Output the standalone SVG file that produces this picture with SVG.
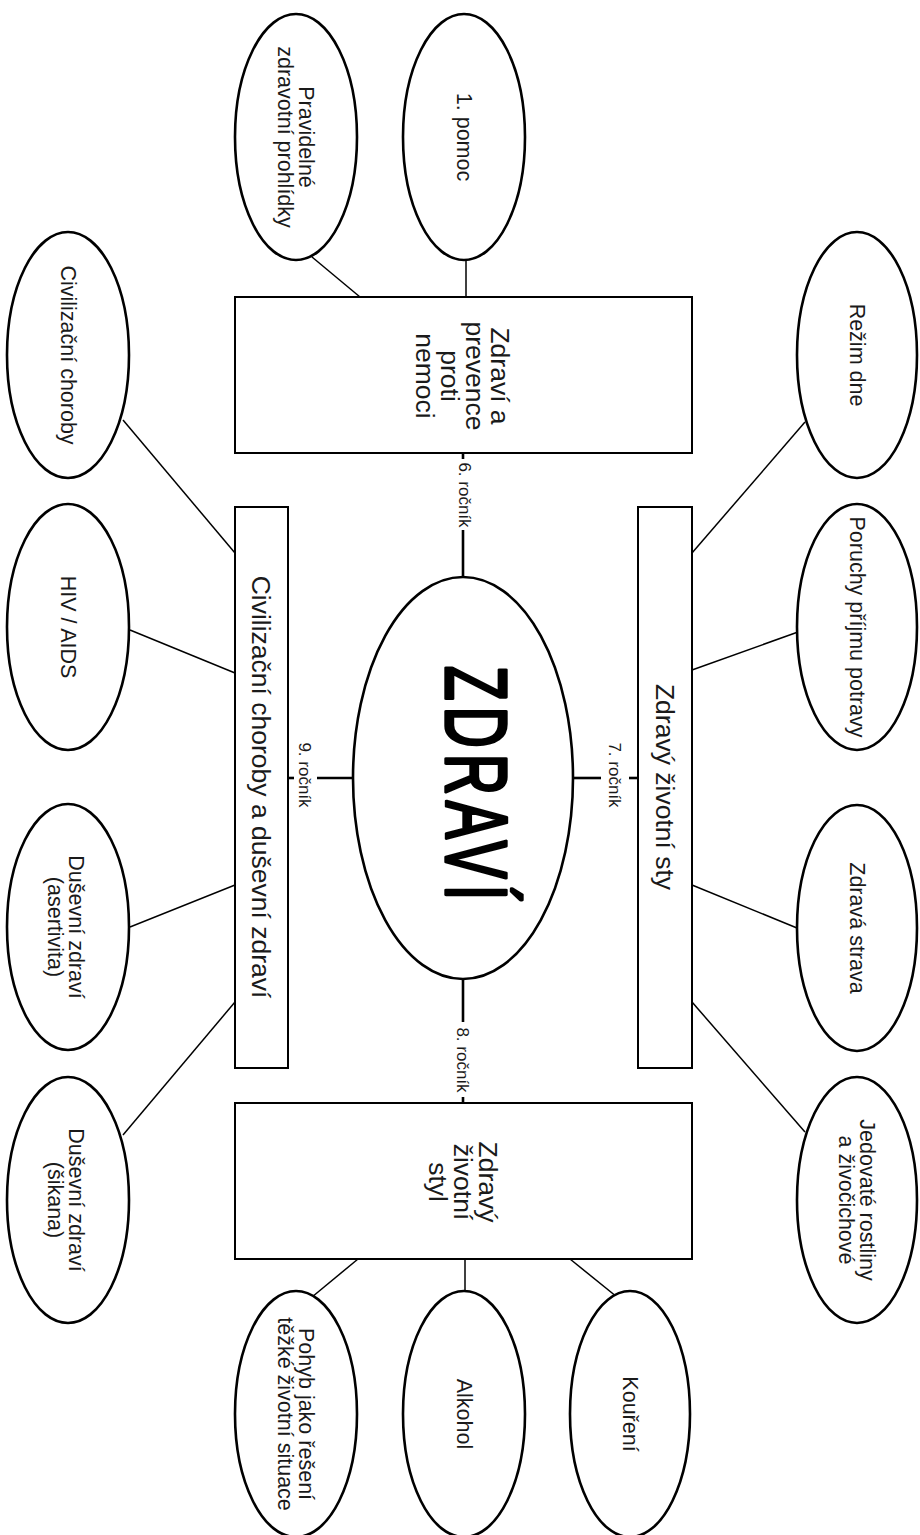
<svg xmlns="http://www.w3.org/2000/svg" width="920" height="1535" viewBox="0 0 920 1535">
<style>
.bg{fill:#ffffff}
.ell{fill:#ffffff;stroke:#000;stroke-width:2.6}
.box{fill:#ffffff;stroke:#000;stroke-width:2}
.ln{stroke:#000;stroke-width:1.5;fill:none}
.lk{stroke:#000;stroke-width:2.6;fill:none}
text{font-family:"Liberation Sans",Arial,sans-serif;fill:#1a1a1a;text-anchor:middle}
.t1{font-size:21.5px}
.t2{font-size:26.5px}
.t3{font-size:17px}
.big{font-size:88px;fill:#000;stroke:#000;stroke-width:3.4;stroke-linejoin:round;letter-spacing:9px}
</style>
<rect class="bg" x="0" y="0" width="920" height="1535"/>

<g id="connectors">
  <line class="lk" x1="463" y1="453" x2="463" y2="459"/>
  <line class="lk" x1="463" y1="530" x2="463" y2="577"/>
  <line class="lk" x1="463" y1="980" x2="463" y2="1022"/>
  <line class="lk" x1="463" y1="1097" x2="463" y2="1103"/>
  <line class="lk" x1="573" y1="778" x2="601" y2="778"/>
  <line class="lk" x1="629" y1="778" x2="638" y2="778"/>
  <line class="lk" x1="288" y1="778" x2="294" y2="778"/>
  <line class="lk" x1="317" y1="778" x2="353" y2="778"/>
  <line class="ln" x1="312" y1="257" x2="360" y2="297"/>
  <line class="ln" x1="466" y1="260" x2="466" y2="297"/>
  <line class="ln" x1="123" y1="420" x2="235" y2="553"/>
  <line class="ln" x1="130" y1="630" x2="235" y2="673"/>
  <line class="ln" x1="130" y1="927" x2="235" y2="885"/>
  <line class="ln" x1="123" y1="1135" x2="235" y2="1002"/>
  <line class="ln" x1="805" y1="422" x2="692" y2="553"/>
  <line class="ln" x1="798" y1="632" x2="692" y2="670"/>
  <line class="ln" x1="797" y1="928" x2="692" y2="885"/>
  <line class="ln" x1="805" y1="1132" x2="692" y2="1002"/>
  <line class="ln" x1="312" y1="1297" x2="358" y2="1259"/>
  <line class="ln" x1="465" y1="1259" x2="465" y2="1295"/>
  <line class="ln" x1="617" y1="1297" x2="570" y2="1259"/>
</g>

<g id="year-labels">
  <text class="t3" transform="translate(465,495) rotate(90)" x="0" y="6">6. ročník</text>
  <text class="t3" transform="translate(615,775) rotate(90)" x="0" y="6">7. ročník</text>
  <text class="t3" transform="translate(463,1060) rotate(90)" x="0" y="6">8. ročník</text>
  <text class="t3" transform="translate(305,775) rotate(90)" x="0" y="6">9. ročník</text>
</g>

<g id="zdravi">
  <ellipse class="ell" cx="463" cy="778" rx="110" ry="201"/>
  <text class="big" transform="translate(463,786) rotate(90) scale(0.65,1)" x="0" y="17">ZDRAVÍ</text>
</g>

<g id="box-prevence">
  <rect class="box" x="235" y="297" width="457" height="156"/>
  <g transform="translate(463,376) rotate(90)">
    <text class="t2" x="0" y="-28.2">Zdraví a</text>
    <text class="t2" x="0" y="-3.2">prevence</text>
    <text class="t2" x="0" y="21.8">proti</text>
    <text class="t2" x="0" y="46.8">nemoci</text>
  </g>
</g>

<g id="box-zivotni-sty">
  <rect class="box" x="638" y="507" width="54" height="561"/>
  <text class="t2" transform="translate(665,787) rotate(90)" x="0" y="9.3">Zdravý životní sty</text>
</g>

<g id="box-civilizacni">
  <rect class="box" x="235" y="507" width="53" height="561"/>
  <text class="t2" transform="translate(261.5,787) rotate(90)" x="0" y="9.3">Civilizační choroby a duševní zdraví</text>
</g>

<g id="box-zivotni-styl">
  <rect class="box" x="235" y="1103" width="457" height="156"/>
  <g transform="translate(463,1182) rotate(90)">
    <text class="t2" x="0" y="-15.7">Zdravý</text>
    <text class="t2" x="0" y="9.3">životní</text>
    <text class="t2" x="0" y="34.3">styl</text>
  </g>
</g>

<g id="e-prohlidky">
  <ellipse class="ell" cx="296" cy="137" rx="61" ry="123"/>
  <g transform="translate(296,137) rotate(90)">
    <text class="t1" x="0" y="-3.3">Pravidelné</text>
    <text class="t1" x="0" y="18.2">zdravotní prohlídky</text>
  </g>
</g>

<g id="e-pomoc">
  <ellipse class="ell" cx="464" cy="137" rx="61" ry="123"/>
  <text class="t1" transform="translate(464,137) rotate(90)" x="0" y="7.5">1. pomoc</text>
</g>

<g id="e-rezim">
  <ellipse class="ell" cx="857" cy="355" rx="60" ry="123"/>
  <text class="t1" transform="translate(857,355) rotate(90)" x="0" y="7.5">Režim dne</text>
</g>

<g id="e-poruchy">
  <ellipse class="ell" cx="857" cy="627" rx="60" ry="123"/>
  <text class="t1" transform="translate(857,627) rotate(90)" x="0" y="7.5">Poruchy příjmu potravy</text>
</g>

<g id="e-strava">
  <ellipse class="ell" cx="857" cy="928" rx="60" ry="123"/>
  <text class="t1" transform="translate(857,928) rotate(90)" x="0" y="7.5">Zdravá strava</text>
</g>

<g id="e-jedovate">
  <ellipse class="ell" cx="857" cy="1200" rx="60" ry="123"/>
  <g transform="translate(857,1200) rotate(90)">
    <text class="t1" x="0" y="-3.3">Jedovaté rostliny</text>
    <text class="t1" x="0" y="18.2">a živočichové</text>
  </g>
</g>

<g id="e-koureni">
  <ellipse class="ell" cx="630" cy="1414" rx="60" ry="123"/>
  <text class="t1" transform="translate(630,1414) rotate(90)" x="0" y="7.5">Kouření</text>
</g>

<g id="e-alkohol">
  <ellipse class="ell" cx="464" cy="1414" rx="61" ry="123"/>
  <text class="t1" transform="translate(464,1414) rotate(90)" x="0" y="7.5">Alkohol</text>
</g>

<g id="e-pohyb">
  <ellipse class="ell" cx="296" cy="1414" rx="61" ry="123"/>
  <g transform="translate(296,1414) rotate(90)">
    <text class="t1" x="0" y="-3.3">Pohyb jako řešení</text>
    <text class="t1" x="0" y="18.2">těžké životní situace</text>
  </g>
</g>

<g id="e-civilizacni">
  <ellipse class="ell" cx="68" cy="355" rx="61" ry="123"/>
  <text class="t1" transform="translate(68,355) rotate(90)" x="0" y="7.5">Civilizační choroby</text>
</g>

<g id="e-hiv">
  <ellipse class="ell" cx="68" cy="627" rx="61" ry="123"/>
  <text class="t1" transform="translate(68,627) rotate(90)" x="0" y="7.5">HIV / AIDS</text>
</g>

<g id="e-asertivita">
  <ellipse class="ell" cx="68" cy="927" rx="61" ry="123"/>
  <g transform="translate(66,927) rotate(90)">
    <text class="t1" x="0" y="-3.3">Duševní zdraví</text>
    <text class="t1" x="0" y="18.2">(asertivita)</text>
  </g>
</g>

<g id="e-sikana">
  <ellipse class="ell" cx="68" cy="1200" rx="61" ry="123"/>
  <g transform="translate(66,1200) rotate(90)">
    <text class="t1" x="0" y="-3.3">Duševní zdraví</text>
    <text class="t1" x="0" y="18.2">(šikana)</text>
  </g>
</g>
</svg>
